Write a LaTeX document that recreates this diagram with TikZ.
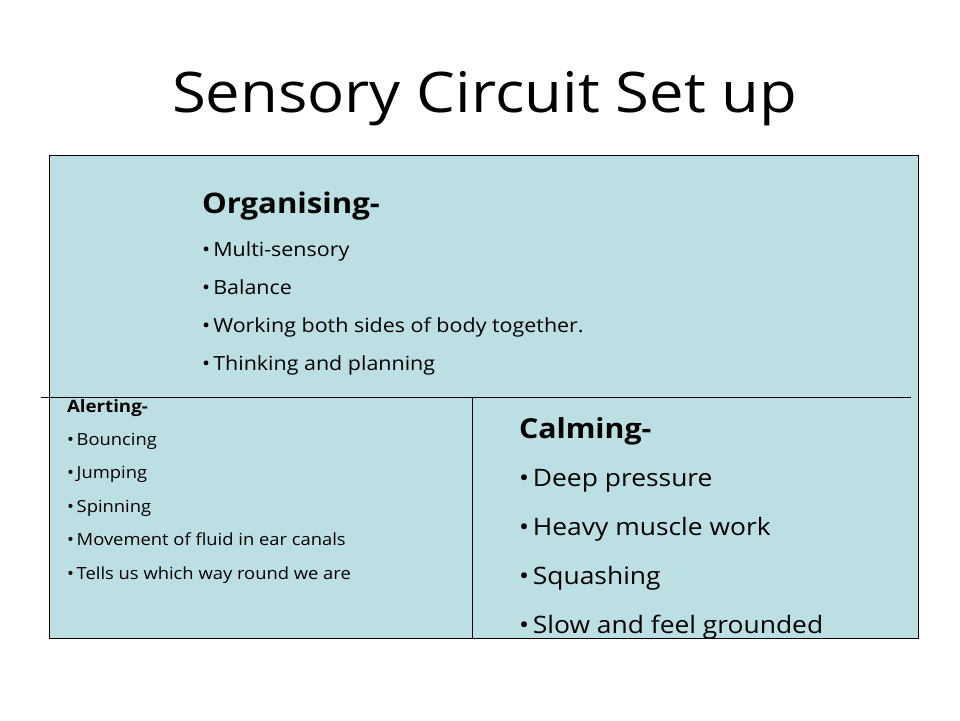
\documentclass[tikz,border=0pt]{standalone}
\usepackage{fontspec}
\setmainfont[FakeStretch=1.1]{Open Sans}
\definecolor{panelfill}{HTML}{BCDFE3}
\begin{document}
\begin{tikzpicture}[x=1pt,y=-1pt,
  txt/.style={anchor=base west, inner sep=0pt, outer sep=0pt},
  orgitem/.style={txt, font=\fontsize{19.5}{19.5}\selectfont},
  altitem/.style={txt, font=\fontsize{16.7}{16.7}\selectfont},
  calitem/.style={txt, font=\fontsize{24}{24}\selectfont},
  rule/.style={line width=1pt}]
\useasboundingbox (0,0) rectangle (960,720);
\fill[white] (0,0) rectangle (960,720);
\node[txt, font=\fontsize{56}{56}\selectfont] (title) at (172,112) {Sensory Circuit Set up};
\draw[rule, fill=panelfill] (49,155) rectangle (918,638);
\coordinate (hl) at (41,397);
\coordinate (hr) at (911,397);
\draw[rule] (hl) -- (hr);
\coordinate (vt) at (472,397);
\coordinate (vb) at (472,638);
\draw[rule] (vt) -- (vb);
\node[txt, font=\fontsize{28.3}{28.3}\selectfont\bfseries] (org) at (202,213) {Organising-};
\node[orgitem] (o1) at (202,256) {•\,Multi-sensory};
\node[orgitem] (o2) at (202,294) {•\,Balance};
\node[orgitem] (o3) at (202,332) {•\,Working both sides of body together.};
\node[orgitem] (o4) at (202,370) {•\,Thinking and planning};
\node[txt, font=\fontsize{17}{17}\selectfont\bfseries] (alt) at (67,412) {Alerting-};
\node[altitem] (a1) at (67,445) {•\,Bouncing};
\node[altitem] (a2) at (67,478) {•\,Jumping};
\node[altitem] (a3) at (67,512) {•\,Spinning};
\node[altitem] (a4) at (67,545) {•\,Movement of fluid in ear canals};
\node[altitem] (a5) at (67,579) {•\,Tells us which way round we are};
\node[txt, font=\fontsize{27.5}{27.5}\selectfont\bfseries] (cal) at (519,438) {Calming-};
\node[calitem] (c1) at (519,486) {•\,Deep pressure};
\node[calitem] (c2) at (519,535) {•\,Heavy muscle work};
\node[calitem] (c3) at (519,584) {•\,Squashing};
\node[calitem] (c4) at (519,633) {•\,Slow and feel grounded};
\end{tikzpicture}
\end{document}
